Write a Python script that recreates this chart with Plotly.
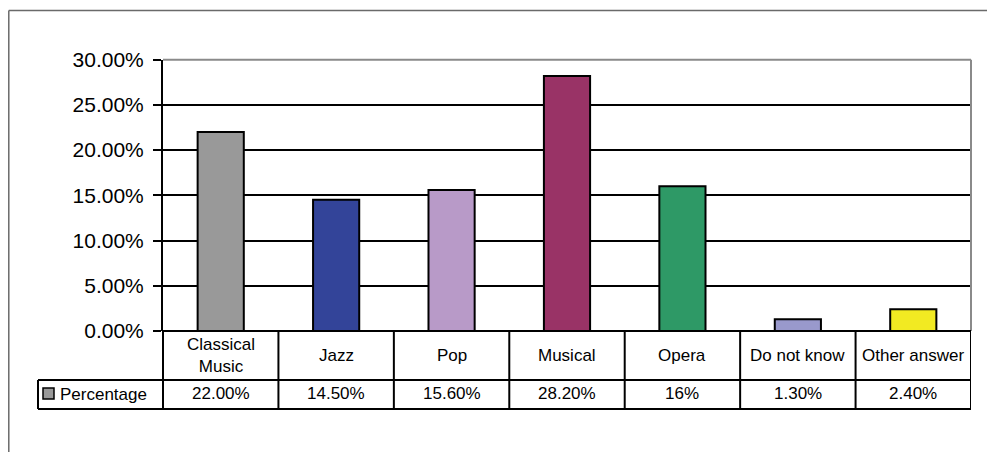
import plotly.graph_objects as go

categories = ["Classical<br>Music", "Jazz", "Pop", "Musical", "Opera", "Do not know", "Other answer"]
values = [22.0, 14.5, 15.6, 28.2, 16.0, 1.3, 2.4]
value_labels = ["22.00%", "14.50%", "15.60%", "28.20%", "16%", "1.30%", "2.40%"]
colors = ["#999999", "#334499", "#b89ac8", "#993366", "#2e9966", "#9999cc", "#f2ea22"]
series_name = "Percentage"
y_ticks = [0, 5, 10, 15, 20, 25, 30]

# page body has an 8px default margin; compensate so the drawing lands where the reference has it
OX, OY = 8, 8
W, H = 995 - OX, 452 - OY
FONT = "Liberation Sans, Arial, sans-serif"

def px(x):
    return (x - OX) / W

def py(y):
    return 1 - (y - OY) / H

x_idx = list(range(len(categories)))

fig = go.Figure()
fig.add_trace(go.Bar(
    x=x_idx, y=values, width=0.4,
    marker=dict(color=colors, line=dict(color="black", width=2)),
    showlegend=False, hoverinfo="y",
))

PL, PR, PT, PB = 163, 971, 59.7, 331
ROW1, ROW2 = 380, 409
LEFT_TABLE = 38

shapes = []
line_k = dict(color="black", width=2)
frame = dict(color="#6a6a6a", width=1.5)
# outer frame
shapes.append(dict(type="line", xref="paper", yref="paper", x0=0.0008, x1=1, y0=py(10.5), y1=py(10.5), line=frame))
shapes.append(dict(type="line", xref="paper", yref="paper", x0=0.0008, x1=0.0008, y0=py(10.5), y1=0, line=frame))
# plot area border (top, right) gray
shapes.append(dict(type="line", xref="paper", yref="paper", x0=px(PL), x1=px(PR), y0=py(PT), y1=py(PT),
                   line=dict(color="#8a8a8a", width=2)))
shapes.append(dict(type="line", xref="paper", yref="paper", x0=px(PR), x1=px(PR), y0=py(PT), y1=py(PB),
                   line=dict(color="#8a8a8a", width=2)))
# table horizontal lines
shapes.append(dict(type="line", xref="paper", yref="paper", x0=px(PL), x1=px(PR), y0=py(PB), y1=py(PB), line=line_k))
for yy in (ROW1, ROW2):
    shapes.append(dict(type="line", xref="paper", yref="paper", x0=px(LEFT_TABLE), x1=px(PR), y0=py(yy), y1=py(yy), line=line_k))
# table verticals
shapes.append(dict(type="line", xref="paper", yref="paper", x0=px(LEFT_TABLE), x1=px(LEFT_TABLE), y0=py(ROW1), y1=py(ROW2), line=line_k))
shapes.append(dict(type="line", xref="paper", yref="paper", x0=px(PL), x1=px(PL), y0=py(PB), y1=py(ROW2), line=line_k))
for i in range(len(categories)):
    shapes.append(dict(type="line", xref="x", yref="paper", x0=i + 0.5, x1=i + 0.5, y0=py(PB), y1=py(ROW2), line=line_k))
# legend key
shapes.append(dict(type="rect", xref="paper", yref="paper", x0=px(43), x1=px(54), y0=py(388), y1=py(399),
                   fillcolor=colors[0], line=dict(color="black", width=1.5)))

annotations = []
for i, c in enumerate(categories):
    annotations.append(dict(x=i, xref="x", y=py((PB + ROW1) / 2), yref="paper", text=c, showarrow=False,
                            font=dict(family=FONT, size=17, color="black"), xanchor="center", yanchor="middle"))
    annotations.append(dict(x=i, xref="x", y=py((ROW1 + ROW2) / 2 - 1), yref="paper", text=value_labels[i], showarrow=False,
                            font=dict(family=FONT, size=17, color="black"), xanchor="center", yanchor="middle"))
annotations.append(dict(x=px(58), xref="paper", y=py((ROW1 + ROW2) / 2), yref="paper", text=series_name, showarrow=False,
                        font=dict(family=FONT, size=17, color="black"), xanchor="left", yanchor="middle"))

fig.update_layout(
    width=W, height=H, margin=dict(l=0, r=0, t=0, b=0, autoexpand=False),
    paper_bgcolor="white", plot_bgcolor="white",
    xaxis=dict(domain=[px(PL), px(PR)], range=[-0.5, len(categories) - 0.5], showticklabels=False,
               showgrid=False, zeroline=False, showline=False, ticks="", automargin=False),
    yaxis=dict(domain=[py(PB), py(PT)], range=[0, 30], tickvals=y_ticks,
               ticktext=[f"{v:.2f}%" for v in y_ticks],
               showgrid=True, gridcolor="black", gridwidth=2, zeroline=False,
               showline=True, linecolor="black", linewidth=2,
               ticks="outside", ticklen=8, tickwidth=2, tickcolor="black",
               ticklabelstandoff=5, automargin=False,
               tickfont=dict(family=FONT, size=21, color="black")),
    shapes=shapes, annotations=annotations,
    bargap=0.6,
)

fig.write_html("out.html")
